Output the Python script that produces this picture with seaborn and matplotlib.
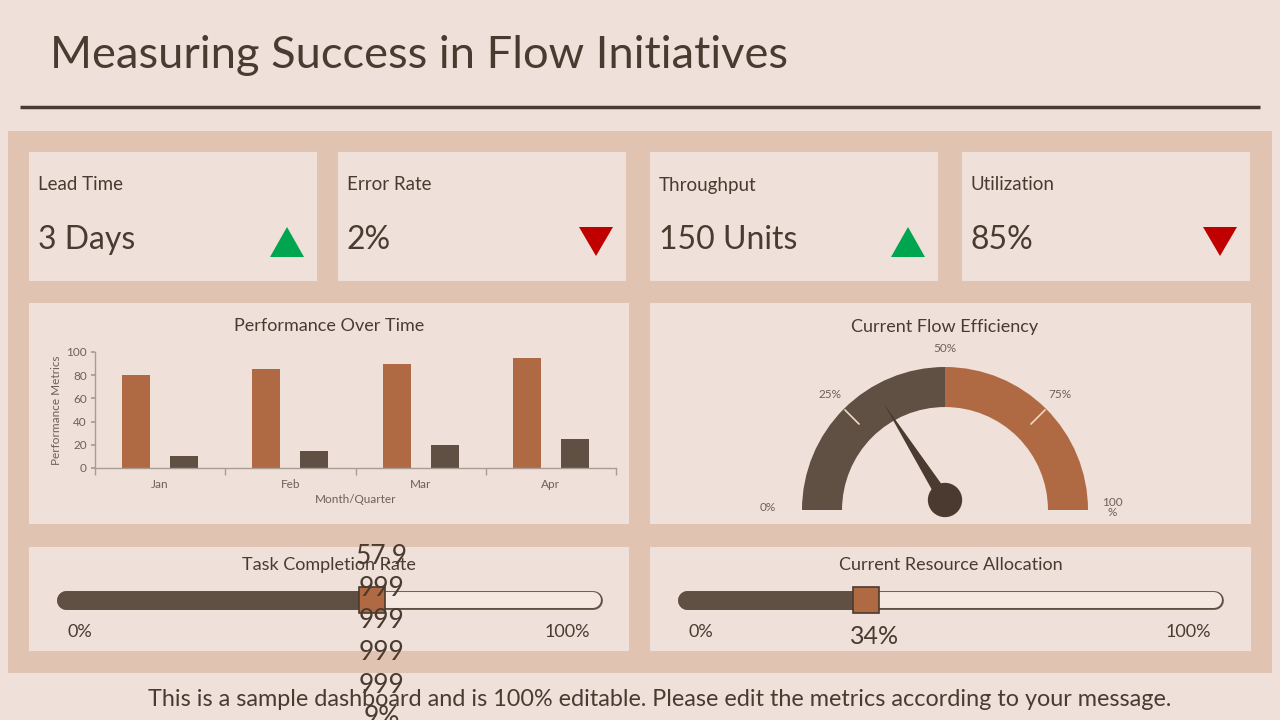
import matplotlib.pyplot as plt
import matplotlib.patches as mpatches
import numpy as np
import pandas as pd
import seaborn as sns

sns.set_theme(style="white")
plt.rcParams['font.family'] = ['Lato', 'DejaVu Sans']

# ---- data ----
title = "Measuring Success in Flow Initiatives"
kpi_labels = ["Lead Time", "Error Rate", "Throughput", "Utilization"]
kpi_values = ["3 Days", "2%", "150 Units", "85%"]
kpi_trend = ["up", "down", "up", "down"]

months = ["Jan", "Feb", "Mar", "Apr"]
series_a = [80, 85, 90, 95]
series_b = [10, 15, 20, 25]

flow_efficiency = 32
gauge_ticks = ["0%", "25%", "50%", "75%", "100\n%"]

task_completion = 0.58 * 100   # 57.99999999999999
resource_alloc = 34

footer = "This is a sample dashboard and is 100% editable. Please edit the metrics according to your message."

# ---- colours ----
BG = "#EFE1D9"
PANEL = "#E1C3B2"
CARD = "#EFE1D9"
TXT = "#4A3B30"
ORANGE = "#B06A43"
DARK = "#5F5043"
NEEDLE = "#4A3A2F"
AXIS = "#A89C93"
TICK_TXT = "#6E6058"

W, H = 1280, 720
fig = plt.figure(figsize=(12.8, 7.2), dpi=100)
fig.patch.set_facecolor(BG)


def box(x0, y0, x1, y1):
    return [x0 / W, 1 - y1 / H, (x1 - x0) / W, (y1 - y0) / H]


bg = fig.add_axes([0, 0, 1, 1], zorder=0)
bg.set_xlim(0, W)
bg.set_ylim(H, 0)
bg.axis("off")

# title and rule
bg.text(50, 55, title, fontsize=32.6, color=TXT, va="center", ha="left")
bg.plot([20, 1260], [107, 107], color=NEEDLE, lw=2.5, solid_capstyle="butt")

# panel
bg.add_patch(mpatches.Rectangle((8, 131), 1264, 542, color=PANEL, lw=0))

# KPI cards
kpi_x = [29, 338, 650, 962]
for x0, lab, val, tr in zip(kpi_x, kpi_labels, kpi_values, kpi_trend):
    bg.add_patch(mpatches.Rectangle((x0, 152), 288, 129, color=CARD, lw=0))
    bg.text(x0 + 9, 185, lab, fontsize=13.5, color=TXT, va="center")
    bg.text(x0 + 9, 240, val, fontsize=23, color=TXT, va="center")
    cx = x0 + 258
    if tr == "up":
        pts = [(cx - 17, 257), (cx + 17, 257), (cx, 227)]
        col = "#00A550"
    else:
        pts = [(cx - 17, 227), (cx + 17, 227), (cx, 256)]
        col = "#C00000"
    bg.add_patch(mpatches.Polygon(pts, closed=True, color=col, lw=0))

# middle and bottom cards
for (x0, y0, x1, y1) in [(29, 303, 629, 524), (650, 303, 1251, 524),
                         (29, 547, 629, 651), (650, 547, 1251, 651)]:
    bg.add_patch(mpatches.Rectangle((x0, y0), x1 - x0, y1 - y0, color=CARD, lw=0))

bg.text(329, 326, "Performance Over Time", fontsize=13, color=TXT, ha="center", va="center")
bg.text(945, 327, "Current Flow Efficiency", fontsize=13, color=TXT, ha="center", va="center")
bg.text(329, 565, "Task Completion Rate", fontsize=13, color=TXT, ha="center", va="center")
bg.text(951, 565, "Current Resource Allocation", fontsize=13, color=TXT, ha="center", va="center")

bg.text(660, 699, footer, fontsize=16.8, color=TXT, ha="center", va="center")

# ---- bar chart ----
df = pd.DataFrame({"Month": months * 2,
                   "Value": series_a + series_b,
                   "Series": ["A"] * len(months) + ["B"] * len(months)})
axb = fig.add_axes(box(95, 352, 616, 468), zorder=2)
sns.barplot(data=df, x="Month", y="Value", hue="Series", palette=[ORANGE, DARK],
            width=0.74, gap=0.42, ax=axb, legend=False, saturation=1,
            linewidth=0, edgecolor="none")
axb.set_facecolor("none")
axb.set_xlim(-0.5, len(months) - 0.5)
axb.set_ylim(0, 100)
axb.set_yticks(range(0, 101, 20))
axb.set_xticks(np.arange(-0.5, len(months), 1.0), minor=True)
axb.tick_params(axis="x", which="major", length=0, labelsize=8.5, labelcolor=TICK_TXT, pad=8)
axb.tick_params(axis="x", which="minor", length=5, color=AXIS, direction="out", bottom=True)
axb.tick_params(axis="y", length=3, color=AXIS, labelsize=8.5, labelcolor=TICK_TXT, left=True, pad=3)
for s in ["top", "right"]:
    axb.spines[s].set_visible(False)
for s in ["left", "bottom"]:
    axb.spines[s].set_color(AXIS)
    axb.spines[s].set_linewidth(1)
axb.set_xlabel("Month/Quarter", fontsize=8.5, color=TICK_TXT, labelpad=3)
axb.set_ylabel("Performance Metrics", fontsize=8.5, color=TICK_TXT, labelpad=3)
axb.grid(False)

# ---- gauge ----
R_PX = 143.0
g0x, g1x, g0y, g1y = 740, 1150, 335, 530
axg = fig.add_axes(box(g0x, g0y, g1x, g1y), zorder=2)
axg.set_xlim((g0x - 945) / R_PX, (g1x - 945) / R_PX)
axg.set_ylim(-(g1y - 510) / R_PX, (510 - g0y) / R_PX)
axg.axis("off")
ring = 0.28
axg.add_patch(mpatches.Wedge((0, 0), 1, 90, 180, width=ring, color=DARK, lw=0))
axg.add_patch(mpatches.Wedge((0, 0), 1, 0, 90, width=ring, color=ORANGE, lw=0))
for pct in [25, 75]:
    a = np.deg2rad(180 - pct * 1.8)
    axg.plot([0.85 * np.cos(a), 0.99 * np.cos(a)], [0.85 * np.sin(a), 0.99 * np.sin(a)],
             color="#F0D8C8", lw=1.2)
label_r = [1.24, 1.14, 1.13, 1.14, 1.17]
for pct, lab, r in zip([0, 25, 50, 75, 100], gauge_ticks, label_r):
    a = np.deg2rad(180 - pct * 1.8)
    axg.text(r * np.cos(a), r * np.sin(a) + (0.02 if pct in (0, 100) else 0), lab,
             fontsize=8.5, color=TICK_TXT, ha="center", va="center", linespacing=0.9)
# needle
hub = np.array([0.0, 0.07])
a = np.deg2rad(180 - flow_efficiency * 1.8)
d = np.array([np.cos(a), np.sin(a)])
n = np.array([-d[1], d[0]])
tip = hub + 0.8 * d
needle = mpatches.Polygon([tip, hub + 0.045 * n, hub - 0.045 * n], closed=True, color=NEEDLE, lw=0)
axg.add_patch(needle)
axg.add_patch(mpatches.Circle(hub, 0.12, color=NEEDLE, lw=0))


# ---- sliders ----
def slider(x0, x1, yc, value):
    pad = 12
    ax = fig.add_axes(box(x0 - pad, yc - 20, x1 + pad, yc + 20), zorder=2)
    scale = (x1 - x0) / 100.0
    ax.set_xlim(-pad / scale, 100 + pad / scale)
    ax.set_ylim(-1, 1)
    ax.axis("off")
    ax.plot([0, 100], [0, 0], color=DARK, lw=13.5, solid_capstyle="round")
    ax.plot([0, 100], [0, 0], color="#F4E8E1", lw=11.5, solid_capstyle="round")
    ax.plot([0, value], [0, 0], color=DARK, lw=13.5, solid_capstyle="round")
    ax.plot([value], [0], marker="s", markersize=19, markerfacecolor=ORANGE,
            markeredgecolor=NEEDLE, markeredgewidth=1.2)
    return ax


slider(66, 593, 600, task_completion)
slider(687, 1214, 600, resource_alloc)

for x in (80, 701):
    bg.text(x, 632, "0%", fontsize=13, color=TXT, ha="center", va="center")
for x in (567, 1188):
    bg.text(x, 632, "100%", fontsize=13, color=TXT, ha="center", va="center")

bg.text(875, 637, f"{resource_alloc}%", fontsize=18, color=TXT, ha="center", va="center")

# task completion label, wrapped like the original text box
s = f"{task_completion}%"
lines = [s[:4]] + [s[i:i + 3] for i in range(4, len(s), 3)]
fig_txt = fig.add_axes([0, 0, 1, 1], zorder=3)
fig_txt.set_xlim(0, W)
fig_txt.set_ylim(H, 0)
fig_txt.axis("off")
for i, ln in enumerate(lines):
    fig_txt.text(382, 556 + 32.3 * i, ln, fontsize=19, color=TXT, ha="center", va="center")

fig.savefig("out.png", dpi=100, facecolor=BG)
